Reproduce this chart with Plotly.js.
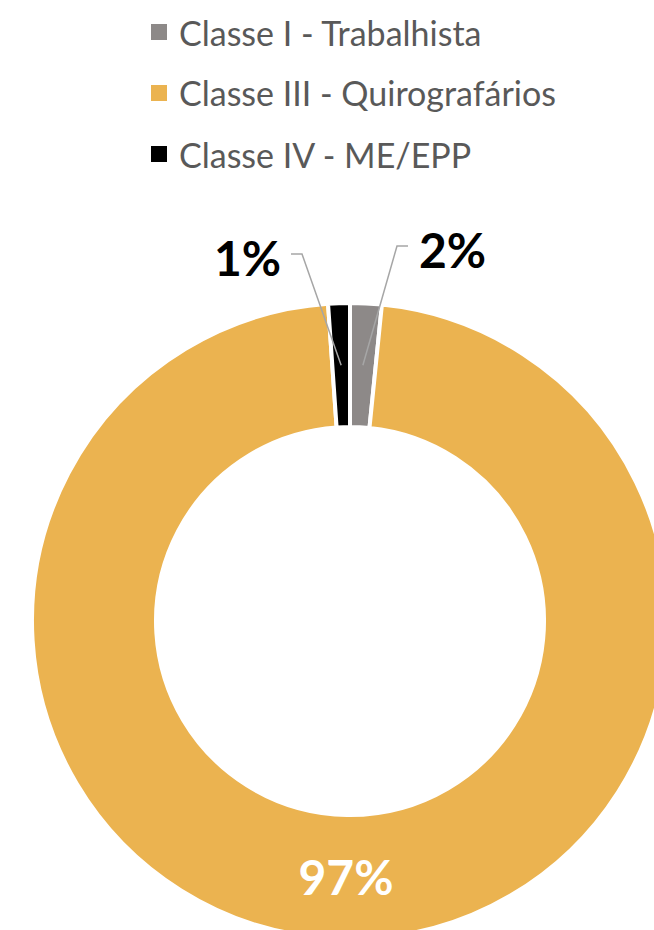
<!DOCTYPE html>
<html>
<head>
<meta charset="utf-8">
<script src="https://cdn.plot.ly/plotly-3.0.1.min.js"></script>
<style>
  html, body { margin: 0; padding: 0; overflow: hidden; background: #ffffff; }
  #chart { width: 720px; height: 1000px; }
</style>
</head>
<body>
<div id="chart"></div>
<script>
// ---- data ----
const labels = ["Classe I - Trabalhista", "Classe III - Quirografários", "Classe IV - ME/EPP"];
const values = [1.6, 97.3, 1.1];
const colors = ["#8D8988", "#EBB350", "#000000"];

// ---- layout constants ----
const W = 720, H = 1000;
const cx = 350, cy = 621, R = 318, rIn = 194;
const FONT = "Lato, 'Open Sans', sans-serif";

const total = values.reduce((a, b) => a + b, 0);
const pctText = values.map(v => Math.round(v / total * 100) + "%");

const px = x => x / W;
const py = y => 1 - y / H;

// slice mid angles (clockwise from 12 o'clock)
const mids = [];
let acc = 0;
values.forEach(v => { mids.push((acc + v / 2) / total * 2 * Math.PI); acc += v; });

const trace = {
  type: "pie",
  labels: labels,
  values: values,
  sort: false,
  direction: "clockwise",
  rotation: 0,
  hole: rIn / R,
  marker: { colors: colors, line: { color: "#ffffff", width: 4 } },
  text: pctText,
  texttemplate: ["", "%{text}", ""],
  textinfo: "text",
  textposition: "inside",
  insidetextorientation: "horizontal",
  textfont: { family: FONT, size: 48, color: "#ffffff", weight: "bold" },
  domain: { x: [px(cx - R), px(cx + R)], y: [py(cy + R), py(cy - R)] },
  showlegend: false,
  hoverinfo: "label+percent"
};

const shapes = [];
const annotations = [];

// outside labels with leader lines for small slices
const outside = [
  { i: 0, elbow: [397, 246], end: [408, 246], tx: 417, ty: 249, anchor: "left" },
  { i: 2, elbow: [302, 254], end: [291, 254], tx: 283, ty: 257, anchor: "right" }
];
const rMid = (R + rIn) / 2;
outside.forEach(o => {
  const a = mids[o.i];
  const sx = cx + rMid * Math.sin(a), sy = cy - rMid * Math.cos(a);
  shapes.push({
    type: "path", xref: "paper", yref: "paper",
    path: `M${px(sx)},${py(sy)} L${px(o.elbow[0])},${py(o.elbow[1])} L${px(o.end[0])},${py(o.end[1])}`,
    line: { color: "#A6A6A6", width: 1.5 }
  });
  annotations.push({
    xref: "paper", yref: "paper", x: px(o.tx), y: py(o.ty),
    xanchor: o.anchor, yanchor: "middle", showarrow: false,
    text: pctText[o.i],
    font: { family: FONT, size: 48, color: "#000000", weight: "bold" }
  });
});

// legend (custom, to match row spacing)
const legY = [32, 93, 154];
labels.forEach((lab, i) => {
  shapes.push({
    type: "rect", xref: "paper", yref: "paper",
    x0: px(151), x1: px(167), y0: py(legY[i] + 8), y1: py(legY[i] - 8),
    fillcolor: colors[i], line: { width: 0 }
  });
  annotations.push({
    xref: "paper", yref: "paper", x: px(177), y: py(legY[i]),
    xanchor: "left", yanchor: "middle", showarrow: false,
    text: lab,
    font: { family: FONT, size: 34, color: "#595959" }
  });
});

const layout = {
  width: W, height: H,
  margin: { l: 0, r: 0, t: 0, b: 0 },
  paper_bgcolor: "#ffffff",
  showlegend: false,
  shapes: shapes,
  annotations: annotations
};

Plotly.newPlot("chart", [trace], layout, { displayModeBar: false, staticPlot: true });
</script>
</body>
</html>
